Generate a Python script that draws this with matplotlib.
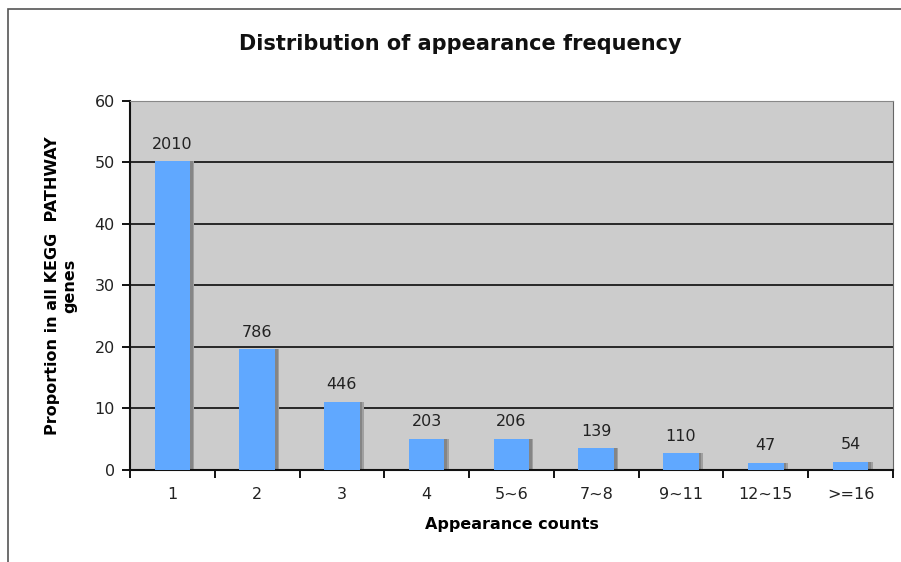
import numpy as np
import matplotlib as mpl
mpl.use("Agg")
import matplotlib.pyplot as plt
from matplotlib.patches import Rectangle

categories = ["1", "2", "3", "4", "5~6", "7~8", "9~11", "12~15", ">=16"]
proportions = [50.2, 19.6, 11.1, 5.1, 5.1, 3.5, 2.7, 1.2, 1.3]
counts = [2010, 786, 446, 203, 206, 139, 110, 47, 54]

BAR_COLOR = "#60A8FF"
BG_COLOR = "#CCCCCC"
WIDTH = 0.42

fig = plt.figure(figsize=(9.01, 5.62), dpi=100)
fig.patch.set_facecolor("white")
fig.add_artist(Rectangle((0.009, -0.01), 1.1, 0.994, transform=fig.transFigure,
                         fill=False, edgecolor="#555555", linewidth=1.2))

ax = fig.add_axes([0.1443, 0.1637, 0.8467, 0.6566])
ax.set_facecolor(BG_COLOR)

x = np.arange(len(categories))
# soft drop shadow behind the bars
ax.bar(x + 0.05, proportions, width=WIDTH, color="#a0a0a0", zorder=2)
ax.bar(x + 0.03, proportions, width=WIDTH, color="#858585", zorder=2)
ax.bar(x, proportions, width=WIDTH, color=BAR_COLOR, zorder=3)

for xi, h, c in zip(x, proportions, counts):
    ax.annotate(str(c), (xi, h), xytext=(0, 7), textcoords="offset points",
                ha="center", va="bottom", fontsize=11.5, color="#222222", zorder=4)

ax.set_xlim(-0.5, len(categories) - 0.5)
ax.set_ylim(0, 60)
ax.set_yticks(np.arange(0, 61, 10))
ax.yaxis.grid(True, color="#1a1a1a", linewidth=1.3, zorder=1)
ax.set_axisbelow(True)

ax.set_xticks(x)
ax.set_xticklabels(categories, fontsize=11.5, color="#222222")
ax.set_xticks(np.arange(-0.5, len(categories), 1.0), minor=True)
ax.tick_params(axis="x", which="major", length=0, pad=12)
ax.tick_params(axis="x", which="minor", length=6, width=1.3, direction="out")
ax.tick_params(axis="y", length=6, width=1.3, direction="out", labelsize=11.5,
               labelcolor="#222222", pad=5)

for side in ["left", "bottom"]:
    ax.spines[side].set_color("#111111")
    ax.spines[side].set_linewidth(1.5)
ax.spines["right"].set_color("#666666")
ax.spines["top"].set_color("#888888")

fig.text(0.511, 0.921, "Distribution of appearance frequency", fontsize=15,
         fontweight="bold", color="#111111", ha="center", va="center")
ax.set_xlabel("Appearance counts", fontsize=11.5, fontweight="bold", labelpad=11)
ax.set_ylabel("Proportion in all KEGG  PATHWAY\ngenes", fontsize=11.5, fontweight="bold",
              labelpad=12)

fig.savefig("out.png", dpi=100)
